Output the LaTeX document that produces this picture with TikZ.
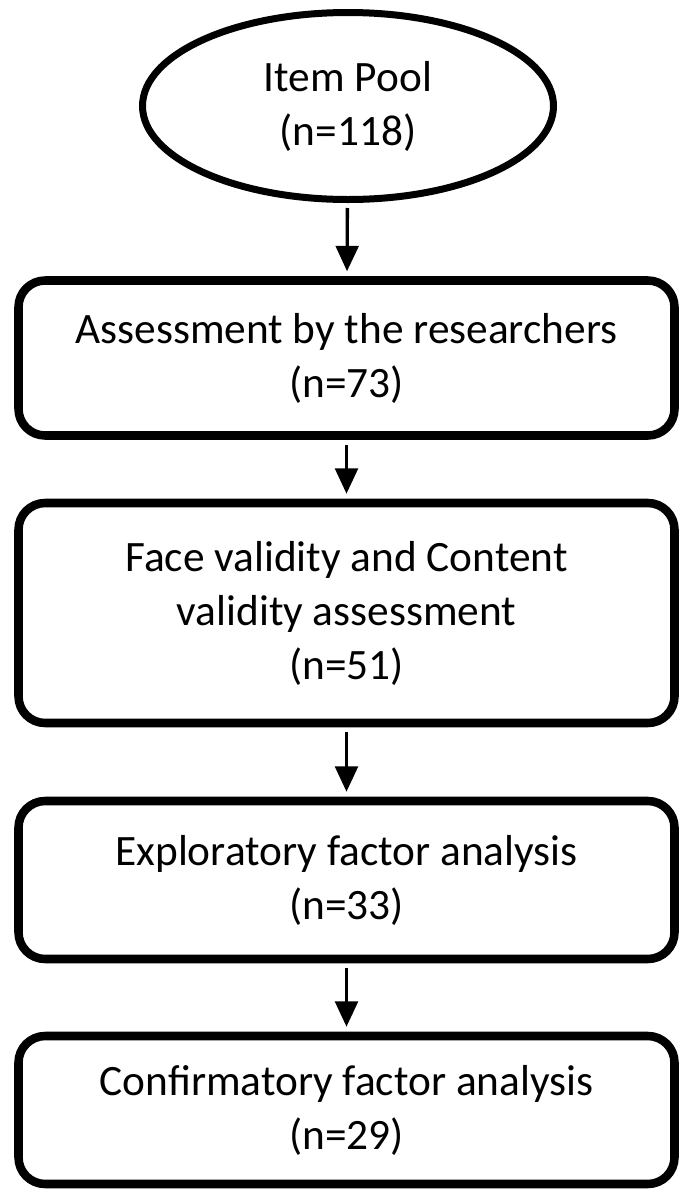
\documentclass[tikz,border=0pt]{standalone}
\usepackage{fontspec}
\setmainfont{Carlito}
\usetikzlibrary{shapes.geometric,arrows.meta}

\begin{document}
\begin{tikzpicture}[x=0.75pt,y=-0.75pt,
        every node/.style={font=\fontsize{32.5pt}{40.5pt}\selectfont,align=center,inner sep=0pt},
        stage/.style={draw,line width=6.4pt,rounded corners=20pt,minimum width=492pt},
        flow/.style={line width=2.5pt,-{Triangle[width=17pt,length=19pt]},shorten <=3.75pt,shorten >=3.75pt}]
    \useasboundingbox (0,0) rectangle (680,1189);
    \node[draw,ellipse,line width=5.25pt,minimum width=308.25pt,minimum height=140.25pt] (pool) at (348,106) {Item Pool\\(n=118)};
    \node[stage,minimum height=116.25pt] (researchers) at (346.5,358) {Assessment by the researchers\\(n=73)};
    \node[stage,minimum height=165pt] (validity) at (346.5,613) {Face validity and Content\\validity assessment\\(n=51)};
    \node[stage,minimum height=118.5pt] (efa) at (346.5,880) {Exploratory factor analysis\\(n=33)};
    \node[stage,minimum height=111pt] (cfa) at (346.5,1110) {Confirmatory factor analysis\\(n=29)};
    \draw[flow] (pool) -- (researchers);
    \draw[flow] (researchers) -- (validity);
    \draw[flow] (validity) -- (efa);
    \draw[flow] (efa) -- (cfa);
\end{tikzpicture}
\end{document}
